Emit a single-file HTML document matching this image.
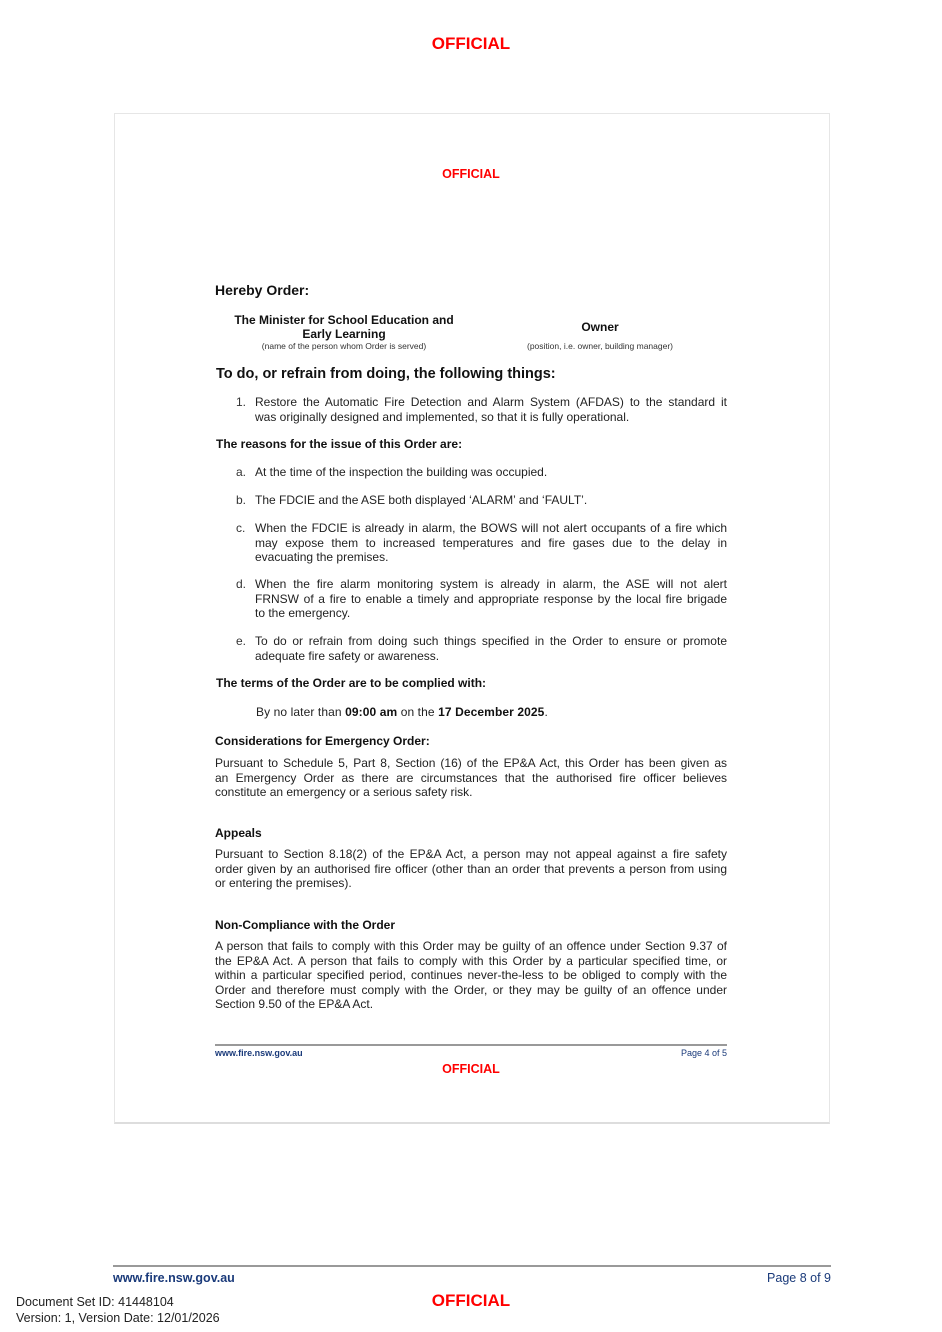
<!DOCTYPE html>
<html><head><style>
body{margin:0;background:#fff;font-family:"Liberation Sans",Arial,sans-serif;}
#w{position:relative;width:942px;height:1332px;overflow:hidden;}
.a{position:absolute;white-space:nowrap;}
.p{position:absolute;font-size:12px;line-height:14.5px;color:#222;}
.p div{white-space:nowrap;}
.p .j{text-align:justify;text-align-last:justify;}
.red{color:#f00;font-weight:bold;}
.h{font-weight:bold;color:#111;}
.n{position:absolute;font-size:12px;color:#333;}
</style></head><body><div id="w">
<div class="a red" style="left:0;width:942px;text-align:center;top:34px;font-size:17px;">OFFICIAL</div>
<div style="position:absolute;left:114px;top:113px;width:714px;height:1008px;border:1px solid #e6e6e6;border-bottom:2px solid #ddd;"></div>
<div class="a red" style="left:0;width:942px;text-align:center;top:167px;font-size:12.5px;">OFFICIAL</div>
<div class="a h" style="left:215px;top:282px;font-size:14px;">Hereby Order:</div>
<div class="a h" style="left:224px;width:240px;text-align:center;top:313px;font-size:12px;line-height:14px;">The Minister for School Education and<br>Early Learning</div>
<div class="a" style="left:224px;width:240px;text-align:center;top:341px;font-size:8.5px;color:#333;">(name of the person whom Order is served)</div>
<div class="a h" style="left:500px;width:200px;text-align:center;top:320px;font-size:12px;">Owner</div>
<div class="a" style="left:500px;width:200px;text-align:center;top:341px;font-size:8.5px;color:#333;">(position, i.e. owner, building manager)</div>
<div class="a h" style="left:216px;top:366px;font-size:14.5px;">To do, or refrain from doing, the following things:</div>
<div class="n" style="left:236px;top:395px;">1.</div>
<div class="p" style="left:255px;width:472px;top:395px;"><div class="j">Restore the Automatic Fire Detection and Alarm System (AFDAS) to the standard it</div><div>was originally designed and implemented, so that it is fully operational.</div></div>
<div class="a h" style="left:216px;top:437px;font-size:12px;">The reasons for the issue of this Order are:</div>
<div class="n" style="left:236px;top:465px;">a.</div>
<div class="p" style="left:255px;width:472px;top:465px;"><div>At the time of the inspection the building was occupied.</div></div>
<div class="n" style="left:236px;top:493px;">b.</div>
<div class="p" style="left:255px;width:472px;top:493px;"><div>The FDCIE and the ASE both displayed ‘ALARM’ and ‘FAULT’.</div></div>
<div class="n" style="left:236px;top:521px;">c.</div>
<div class="p" style="left:255px;width:472px;top:521px;"><div class="j">When the FDCIE is already in alarm, the BOWS will not alert occupants of a fire which</div><div class="j">may expose them to increased temperatures and fire gases due to the delay in</div><div>evacuating the premises.</div></div>
<div class="n" style="left:236px;top:577px;">d.</div>
<div class="p" style="left:255px;width:472px;top:577px;"><div class="j">When the fire alarm monitoring system is already in alarm, the ASE will not alert</div><div class="j">FRNSW of a fire to enable a timely and appropriate response by the local fire brigade</div><div>to the emergency.</div></div>
<div class="n" style="left:236px;top:634px;">e.</div>
<div class="p" style="left:255px;width:472px;top:634px;"><div class="j">To do or refrain from doing such things specified in the Order to ensure or promote</div><div>adequate fire safety or awareness.</div></div>
<div class="a h" style="left:216px;top:676px;font-size:12px;">The terms of the Order are to be complied with:</div>
<div class="p" style="left:256px;top:705px;letter-spacing:0.1px;">By no later than <b style="color:#111">09:00 am</b> on the <b style="color:#111">17 December 2025</b>.</div>
<div class="a h" style="left:215px;top:734px;font-size:12px;">Considerations for Emergency Order:</div>
<div class="p" style="left:215px;width:512px;top:756px;"><div class="j">Pursuant to Schedule 5, Part 8, Section (16) of the EP&amp;A Act, this Order has been given as</div><div class="j">an Emergency Order as there are circumstances that the authorised fire officer believes</div><div>constitute an emergency or a serious safety risk.</div></div>
<div class="a h" style="left:215px;top:826px;font-size:12px;">Appeals</div>
<div class="p" style="left:215px;width:512px;top:847px;"><div class="j">Pursuant to Section 8.18(2) of the EP&amp;A Act, a person may not appeal against a fire safety</div><div class="j">order given by an authorised fire officer (other than an order that prevents a person from using</div><div>or entering the premises).</div></div>
<div class="a h" style="left:215px;top:918px;font-size:12px;">Non-Compliance with the Order</div>
<div class="p" style="left:215px;width:512px;top:939px;"><div class="j">A person that fails to comply with this Order may be guilty of an offence under Section 9.37 of</div><div class="j">the EP&amp;A Act. A person that fails to comply with this Order by a particular specified time, or</div><div class="j">within a particular specified period, continues never-the-less to be obliged to comply with the</div><div class="j">Order and therefore must comply with the Order, or they may be guilty of an offence under</div><div>Section 9.50 of the EP&amp;A Act.</div></div>
<div style="position:absolute;left:215px;top:1044px;width:512px;height:2px;background:#999;"></div>
<div class="a" style="left:215px;top:1048px;font-size:9px;font-weight:bold;color:#1a3a7a;">www.fire.nsw.gov.au</div>
<div class="a" style="left:660px;width:67px;text-align:right;top:1048px;font-size:9px;color:#1a3a7a;">Page 4 of 5</div>
<div class="a red" style="left:0;width:942px;text-align:center;top:1062px;font-size:12.5px;">OFFICIAL</div>
<div style="position:absolute;left:113px;top:1265px;width:718px;height:2px;background:#999;"></div>
<div class="a" style="left:113px;top:1271px;font-size:12.5px;font-weight:bold;color:#1a3a7a;">www.fire.nsw.gov.au</div>
<div class="a" style="left:700px;width:131px;text-align:right;top:1271px;font-size:12.5px;color:#1a3a7a;">Page 8 of 9</div>
<div class="a red" style="left:0;width:942px;text-align:center;top:1291px;font-size:17px;">OFFICIAL</div>
<div class="a" style="left:16px;top:1294px;font-size:12.5px;color:#222;line-height:16px;">Document Set ID: 41448104<br>Version: 1, Version Date: 12/01/2026</div>
</div></body></html>
